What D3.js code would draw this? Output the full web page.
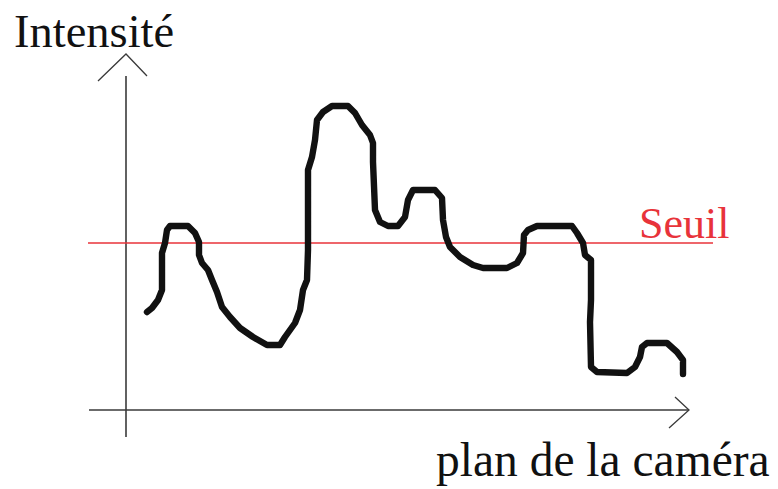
<!DOCTYPE html>
<html>
<head>
<meta charset="utf-8">
<script src="https://cdn.jsdelivr.net/npm/d3@7"></script>
<style>
  html, body { margin: 0; padding: 0; background: #fff; }
  svg { display: block; }
  text { font-family: "Liberation Serif", "Times New Roman", serif; }
</style>
</head>
<body>
<svg id="chart" width="778" height="489"></svg>
<script>
// Position along the camera plane (arbitrary units)
const position = [
  4.2, 5.2, 6.4, 7.2, 7.2, 7.8, 8.2, 8.8, 12.4, 13.8, 14.6, 14.6, 15.2, 16.4, 17.2, 18.2,
  19.2, 20.8, 22.8, 25.4, 28.2, 30.8, 31.8, 33.8, 34.8, 35.4, 36.2, 36.4, 36.4, 37.2,
  37.8, 38.2, 39.4, 41.2, 44.4, 45.8, 47.2, 48.8, 49.4, 49.4, 49.8, 50.8, 52.4, 54.4,
  55.8, 56.4, 57.4, 61.8, 63.2, 63.4, 64.0, 64.8, 66.8, 69.4, 71.4, 76.2, 78.2, 79.4,
  79.6, 80.4, 82.2, 89.2, 90.2, 91.4, 91.8, 93.0, 93.0, 92.8, 93.0, 94.2, 100.2, 101.8,
  102.8, 103.2, 104.2, 108.2, 110.2, 111.4, 111.4
];
// Measured intensity at each position
const intensity = [
  19.6, 20.4, 22.0, 24.0, 31.4, 33.4, 36.0, 36.8, 36.8, 35.4, 33.6, 31.0, 29.4, 28.0, 26.0, 23.6,
  20.6, 18.6, 16.4, 14.6, 13.0, 13.0, 14.6, 17.4, 20.0, 24.0, 26.0, 32.0, 48.0, 50.6,
  54.0, 58.0, 59.6, 60.8, 60.8, 59.4, 57.0, 55.0, 53.4, 49.6, 40.0, 37.6, 36.8, 36.8,
  38.6, 42.0, 44.0, 44.0, 42.4, 38.0, 34.6, 32.6, 30.6, 29.0, 28.4, 28.4, 29.4, 31.4,
  35.0, 36.0, 36.8, 36.8, 35.4, 33.4, 31.0, 30.0, 22.0, 17.6, 8.6, 7.6, 7.4, 8.6,
  10.6, 12.6, 13.4, 13.4, 11.6, 10.0, 7.2
];
// Detection threshold
const threshold = 33.4;
const thresholdLabel = "Seuil";
const yAxisLabel = "Intensité";
const xAxisLabel = "plan de la caméra";

const svg = d3.select("#chart");

const x = d3.scaleLinear().domain([0, 112]).range([126, 686]);
const y = d3.scaleLinear().domain([0, 70]).range([410, 60]);

const axisColor = "#3a3a3a";

// Horizontal axis with an open arrowhead
const xEnd = x(112.6);
svg.append("line")
  .attr("x1", x(-7.4)).attr("x2", xEnd)
  .attr("y1", y(0)).attr("y2", y(0))
  .attr("stroke", axisColor).attr("stroke-width", 1.6);
svg.append("path")
  .attr("d", d3.line()([[xEnd - 14, y(0) - 13], [xEnd, y(0)], [xEnd - 20, y(0) + 18]]))
  .attr("fill", "none").attr("stroke", axisColor).attr("stroke-width", 1.3);

// Vertical axis with an open arrowhead slightly above its end
svg.append("line")
  .attr("x1", x(0)).attr("x2", x(0))
  .attr("y1", y(-5.4)).attr("y2", y(66.8))
  .attr("stroke", axisColor).attr("stroke-width", 1.6);
const tipY = y(66.8) - 22;
svg.append("path")
  .attr("d", d3.line()([[x(0) - 28, tipY + 27], [x(0), tipY], [x(0) + 21, tipY + 22]]))
  .attr("fill", "none").attr("stroke", axisColor).attr("stroke-width", 1.3);

// Threshold line
svg.append("line")
  .attr("x1", x(-7.6)).attr("x2", x(117.4))
  .attr("y1", y(threshold)).attr("y2", y(threshold))
  .attr("stroke", "#e8333a").attr("stroke-width", 1.5);

// Intensity profile
const pts = position.map((p, i) => [p, intensity[i]]);
svg.append("path")
  .datum(pts)
  .attr("d", d3.line().x(d => x(d[0])).y(d => y(d[1])).curve(d3.curveLinear))
  .attr("fill", "none")
  .attr("stroke", "#111")
  .attr("stroke-width", 6.4)
  .attr("stroke-linejoin", "round")
  .attr("stroke-linecap", "round");

// Labels
svg.append("text")
  .attr("x", 14).attr("y", 47)
  .attr("font-size", 46.5).attr("fill", "#111")
  .text(yAxisLabel);

svg.append("text")
  .attr("x", 639).attr("y", 238)
  .attr("font-size", 44).attr("fill", "#e8333a")
  .text(thresholdLabel);

svg.append("text")
  .attr("x", 436).attr("y", 476)
  .attr("font-size", 47.5).attr("fill", "#111")
  .text(xAxisLabel);
</script>
</body>
</html>
